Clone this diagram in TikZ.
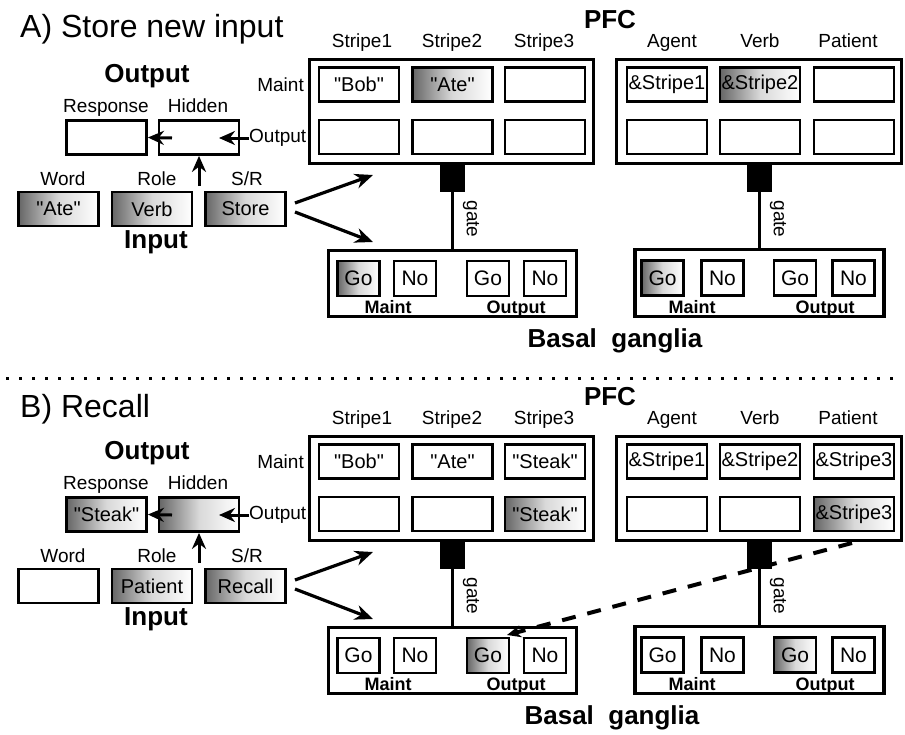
\documentclass[tikz,border=0pt]{standalone}
\usepackage{fontspec}
\setmainfont{Liberation Sans}[Ligatures=TeXOff]
\usetikzlibrary{arrows.meta}
\newcommand\fs[1]{\fontsize{#1}{#1}\selectfont}
\begin{document}
\begin{tikzpicture}[x=1pt,y=-1pt,
  cell/.style={draw, line width=2.8pt, inner sep=0pt, minimum width=80pt, minimum height=34pt, font=\fs{20}},
  bgcell/.style={cell, minimum width=42pt, minimum height=35pt, font=\fs{21}},
  outer/.style={draw, line width=3.2pt, inner sep=0pt},
  lab/.style={font=\fs{19}, inner sep=0pt},
  hdr/.style={font=\bfseries\fs{26}, inner sep=0pt},
  bglab/.style={font=\bfseries\fs{18}, inner sep=0pt},
  ttl/.style={font=\fs{32}, inner sep=0pt},
  shd/.style={left color=black!60, right color=white, middle color=black!15},
  arr/.style={-{Stealth[length=18pt,width=15pt]}, line width=3.2pt},
  arrs/.style={-{Stealth[length=16pt,width=14pt]}, line width=3pt},
  gatebox/.style={fill=black, draw=none, minimum width=25pt, minimum height=27pt, inner sep=0pt},
  gateline/.style={line width=3pt},
  sep/.style={line width=3pt, dash pattern=on 3pt off 10pt},
  dsh/.style={-{Stealth[length=14pt,width=12pt]}, line width=4pt, dash pattern=on 14pt off 12pt}
]
\useasboundingbox (0,0) rectangle (905,734);

% ================= Panel A =================
\begin{scope}
\node[ttl, anchor=base west] (a-title) at (20,37) {A) Store new input};
\node[hdr, anchor=base] (a-pfc) at (610,28) {PFC};
\node[hdr, anchor=base] (a-out) at (147,82) {Output};
\node[lab, anchor=base] (a-respl) at (106,112) {Response};
\node[lab, anchor=base] (a-hidl) at (198,112) {Hidden};
\node[cell] (a-resp) at (106.5,137.5) {};
\node[cell] (a-hid) at (199,137.5) {};
\node[lab, anchor=base] (a-wordl) at (63,185) {Word};
\node[lab, anchor=base] (a-rolel) at (157,185) {Role};
\node[lab, anchor=base] (a-srl) at (247,185) {S/R};
\node[cell, shd] (a-word) at (58.5,209) {"Ate"};
\node[cell, shd] (a-role) at (152,209) {Verb};
\node[cell, shd] (a-sr) at (245.5,209) {Store};
\node[hdr, anchor=base] (a-in) at (156,248) {Input};
\node[lab, anchor=west] (a-outl) at (249,138) {Output};
\node[lab, anchor=east] (a-maint) at (304,85) {Maint};
\coordinate (a-hin) at (219,138);
\coordinate (a-hl) at (172,138);
\coordinate (a-up) at (199,186);
\draw[arrs] (a-outl.west) -- (a-hin);
\draw[arrs] (a-hl) -- (a-resp.east);
\draw[arrs] (a-up) -- (a-hid.south);
% PFC left
\node[outer, minimum width=284pt, minimum height=104pt] (a-pfc1) at (451.5,111.5) {};
\node[lab, anchor=base] (a-st1) at (362,47) {Stripe1};
\node[lab, anchor=base] (a-st2) at (452,47) {Stripe2};
\node[lab, anchor=base] (a-st3) at (544,47) {Stripe3};
\node[cell] (a-s1m) at (359,84.5) {"Bob"};
\node[cell, shd] (a-s2m) at (452.5,84.5) {"Ate"};
\node[cell] (a-s3m) at (545,84.5) {};
\node[cell] (a-s1o) at (359,137) {};
\node[cell] (a-s2o) at (452.5,137) {};
\node[cell] (a-s3o) at (545,137) {};
% PFC right
\node[outer, minimum width=285pt, minimum height=104pt] (a-pfc2) at (759,111.5) {};
\node[lab, anchor=base] (a-ag) at (672,47) {Agent};
\node[lab, anchor=base] (a-vb) at (760,47) {Verb};
\node[lab, anchor=base] (a-pt) at (848,47) {Patient};
\node[cell] (a-r1m) at (667,84.5) {\&Stripe1};
\node[cell, shd] (a-r2m) at (760,84.5) {\&Stripe2};
\node[cell] (a-r3m) at (854,84.5) {};
\node[cell] (a-r1o) at (667,137) {};
\node[cell] (a-r2o) at (760,137) {};
\node[cell] (a-r3o) at (854,137) {};
% gates
\node[gatebox] (a-g1) at (452.5,178.5) {};
\node[gatebox] (a-g2) at (759.5,178.5) {};
% BG left
\node[outer, minimum width=248pt, minimum height=66pt] (a-bg1) at (452.5,283.5) {};
\node[bgcell, shd] (a-go1) at (358.5,278.5) {Go};
\node[bgcell] (a-no1) at (415,278.5) {No};
\node[bgcell] (a-go2) at (488,278.5) {Go};
\node[bgcell] (a-no2) at (545,278.5) {No};
\node[bglab, anchor=base] (a-bm1) at (388,313) {Maint};
\node[bglab, anchor=base] (a-bo1) at (516,313) {Output};
% BG right
\node[outer, minimum width=249pt, minimum height=67pt] (a-bg2) at (759.5,283) {};
\node[bgcell, shd] (a-go3) at (662.5,278) {Go};
\node[bgcell] (a-no3) at (722.5,278) {No};
\node[bgcell] (a-go4) at (795,278) {Go};
\node[bgcell] (a-no4) at (853.5,278) {No};
\node[bglab, anchor=base] (a-bm2) at (692,313) {Maint};
\node[bglab, anchor=base] (a-bo2) at (825,313) {Output};
% gate lines
\draw[gateline] (a-g1.south) -- (a-bg1.north);
\draw[gateline] (a-g2.south) -- (a-bg2.north);
\node[lab, rotate=-90] (a-gt1) at (471,219) {gate};
\node[lab, rotate=-90] (a-gt2) at (778,219) {gate};
% S/R arrows
\coordinate (a-sra) at (295,203);
\coordinate (a-srb) at (295,212);
\coordinate (a-pin) at (373,175);
\coordinate (a-bin) at (373,242);
\draw[arr] (a-sra) -- (a-pin);
\draw[arr] (a-srb) -- (a-bin);
\node[hdr, anchor=base] (a-bgl) at (615,347) {Basal\ \ ganglia};
\end{scope}

% separator
\coordinate (sepL) at (6,378);
\coordinate (sepR) at (903,378);
\draw[sep] (sepL) -- (sepR);

% ================= Panel B =================
\begin{scope}[shift={(0,377)}]
\node[ttl, anchor=base west] (b-title) at (20,40) {B) Recall};
\node[hdr, anchor=base] (b-pfc) at (610,28) {PFC};
\node[hdr, anchor=base] (b-out) at (147,82) {Output};
\node[lab, anchor=base] (b-respl) at (106,112) {Response};
\node[lab, anchor=base] (b-hidl) at (198,112) {Hidden};
\node[cell, shd] (b-resp) at (106.5,137.5) {"Steak"};
\node[cell, shd] (b-hid) at (199,137.5) {};
\node[lab, anchor=base] (b-wordl) at (63,185) {Word};
\node[lab, anchor=base] (b-rolel) at (157,185) {Role};
\node[lab, anchor=base] (b-srl) at (247,185) {S/R};
\node[cell] (b-word) at (58.5,209) {};
\node[cell, shd] (b-role) at (152,209) {Patient};
\node[cell, shd] (b-sr) at (245.5,209) {Recall};
\node[hdr, anchor=base] (b-in) at (156,248) {Input};
\node[lab, anchor=west] (b-outl) at (249,138) {Output};
\node[lab, anchor=east] (b-maint) at (304,85) {Maint};
\coordinate (b-hin) at (219,138);
\coordinate (b-hl) at (172,138);
\coordinate (b-up) at (199,186);
\draw[arrs] (b-outl.west) -- (b-hin);
\draw[arrs] (b-hl) -- (b-resp.east);
\draw[arrs] (b-up) -- (b-hid.south);
% PFC left
\node[outer, minimum width=284pt, minimum height=104pt] (b-pfc1) at (451.5,111.5) {};
\node[lab, anchor=base] (b-st1) at (362,47) {Stripe1};
\node[lab, anchor=base] (b-st2) at (452,47) {Stripe2};
\node[lab, anchor=base] (b-st3) at (544,47) {Stripe3};
\node[cell] (b-s1m) at (359,84.5) {"Bob"};
\node[cell] (b-s2m) at (452.5,84.5) {"Ate"};
\node[cell] (b-s3m) at (545,84.5) {"Steak"};
\node[cell] (b-s1o) at (359,137) {};
\node[cell] (b-s2o) at (452.5,137) {};
\node[cell, shd] (b-s3o) at (545,137) {"Steak"};
% PFC right
\node[outer, minimum width=285pt, minimum height=104pt] (b-pfc2) at (759,111.5) {};
\node[lab, anchor=base] (b-ag) at (672,47) {Agent};
\node[lab, anchor=base] (b-vb) at (760,47) {Verb};
\node[lab, anchor=base] (b-pt) at (848,47) {Patient};
\node[cell] (b-r1m) at (667,84.5) {\&Stripe1};
\node[cell] (b-r2m) at (760,84.5) {\&Stripe2};
\node[cell] (b-r3m) at (854,84.5) {\&Stripe3};
\node[cell] (b-r1o) at (667,137) {};
\node[cell] (b-r2o) at (760,137) {};
\node[cell, shd] (b-r3o) at (854,137) {\&Stripe3};
% gates
\node[gatebox] (b-g1) at (452.5,178.5) {};
\node[gatebox] (b-g2) at (759.5,178.5) {};
% BG left
\node[outer, minimum width=248pt, minimum height=66pt] (b-bg1) at (452.5,283.5) {};
\node[bgcell] (b-go1) at (358.5,278.5) {Go};
\node[bgcell] (b-no1) at (415,278.5) {No};
\node[bgcell, shd] (b-go2) at (488,278.5) {Go};
\node[bgcell] (b-no2) at (545,278.5) {No};
\node[bglab, anchor=base] (b-bm1) at (388,313) {Maint};
\node[bglab, anchor=base] (b-bo1) at (516,313) {Output};
% BG right
\node[outer, minimum width=249pt, minimum height=67pt] (b-bg2) at (759.5,283) {};
\node[bgcell] (b-go3) at (662.5,278) {Go};
\node[bgcell] (b-no3) at (722.5,278) {No};
\node[bgcell, shd] (b-go4) at (795,278) {Go};
\node[bgcell] (b-no4) at (853.5,278) {No};
\node[bglab, anchor=base] (b-bm2) at (692,313) {Maint};
\node[bglab, anchor=base] (b-bo2) at (825,313) {Output};
% gate lines
\draw[gateline] (b-g1.south) -- (b-bg1.north);
\draw[gateline] (b-g2.south) -- (b-bg2.north);
\node[lab, rotate=-90] (b-gt1) at (471,219) {gate};
\node[lab, rotate=-90] (b-gt2) at (778,219) {gate};
% S/R arrows
\coordinate (b-sra) at (295,203);
\coordinate (b-srb) at (295,212);
\coordinate (b-pin) at (373,175);
\coordinate (b-bin) at (373,242);
\draw[arr] (b-sra) -- (b-pin);
\draw[arr] (b-srb) -- (b-bin);
% dashed recall arrow
\coordinate (b-dstart) at (852,166);
\coordinate (b-dend) at (507,258);
\draw[dsh] (b-dstart) -- (b-dend);
\node[hdr, anchor=base] (b-bgl) at (612,347) {Basal\ \ ganglia};
\end{scope}
\end{tikzpicture}
\end{document}
